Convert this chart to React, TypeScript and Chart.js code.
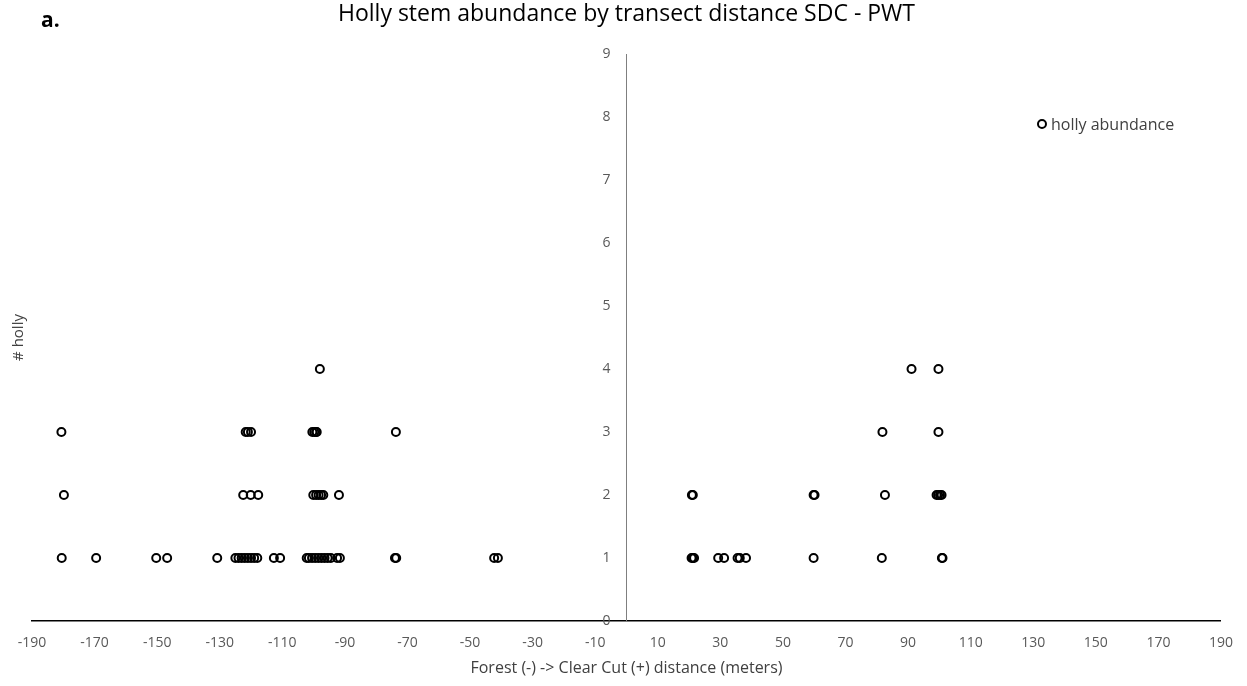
import React, { useEffect, useRef } from "react";
import { Chart, registerables } from "chart.js";

Chart.register(...registerables);

const chartTitle = "Holly stem abundance by transect distance SDC - PWT";
const panelLabel = "a.";
const xAxisTitle = "Forest (-) -> Clear Cut (+) distance (meters)";
const yAxisTitle = "# holly";
const seriesLabel = "holly abundance";

const xTickValues = [-190, -170, -150, -130, -110, -90, -70, -50, -30, -10, 10, 30, 50, 70, 90, 110, 130, 150, 170, 190];
const yTickValues = [0, 1, 2, 3, 4, 5, 6, 7, 8, 9];

// distances (m) of plots holding 1, 2, 3, 4 holly stems
const distancesWith1 = [
  -180.5, -169.5, -150.3, -146.8, -130.8, -125, -124, -123, -122, -121, -120, -119, -118,
  -112.7, -110.7, -102.2, -101.5, -100.5, -99.5, -98.5, -97.5, -96.5, -95.5, -94.5, -92.5,
  -91.6, -74, -73.6, -42.3, -41.1, 20.8, 21.2, 21.6, 29.3, 31.2, 35.5, 36.2, 38.2, 59.8,
  81.6, 100.8, 101.0,
];
const distancesWith2 = [
  -179.8, -122.5, -120.1, -117.7, -100.1, -99.2, -98.4, -97.6, -96.9, -91.9, 20.9, 21.2,
  59.8, 60.1, 82.6, 99.1, 99.6, 100.2, 100.7,
];
const distancesWith3 = [-180.6, -121.7, -121, -120, -100.4, -99.8, -99.2, -99.0, -73.7, 81.8, 99.7];
const distancesWith4 = [-98, 91.1, 99.7];

const countRows: [number, number[]][] = [
  [1, distancesWith1],
  [2, distancesWith2],
  [3, distancesWith3],
  [4, distancesWith4],
];

const FONT = "'Open Sans', 'Noto Sans', sans-serif";
const TEXT_GRAY = "#595959";

const extrasPlugin = {
  id: "extras",
  afterDraw(chart: any) {
    const { ctx, chartArea, scales } = chart;
    ctx.save();
    // panel label
    ctx.fillStyle = "#000";
    ctx.font = `bold 21px ${FONT}`;
    ctx.textAlign = "left";
    ctx.textBaseline = "alphabetic";
    ctx.fillText(panelLabel, 41, 27);
    // y tick labels to the left of the centred axis
    const axisX = scales.x.getPixelForValue(0);
    ctx.font = `14px ${FONT}`;
    ctx.fillStyle = TEXT_GRAY;
    ctx.textAlign = "right";
    ctx.textBaseline = "middle";
    for (const v of yTickValues) {
      ctx.fillText(String(v), axisX - 16, scales.y.getPixelForValue(v));
    }
    // y axis title on the far left
    ctx.save();
    ctx.translate(19, (chartArea.top + chartArea.bottom) / 2);
    ctx.rotate(-Math.PI / 2);
    ctx.font = `15px ${FONT}`;
    ctx.fillStyle = "#404040";
    ctx.textAlign = "center";
    ctx.textBaseline = "middle";
    ctx.fillText(yAxisTitle, 0, 0);
    ctx.restore();
    // legend inside the plot
    const lx = chartArea.right - 179;
    const ly = chartArea.top + 70;
    ctx.beginPath();
    ctx.arc(lx, ly, 4, 0, Math.PI * 2);
    ctx.lineWidth = 2;
    ctx.strokeStyle = "#000";
    ctx.stroke();
    ctx.font = `16px ${FONT}`;
    ctx.fillStyle = "#404040";
    ctx.textAlign = "left";
    ctx.textBaseline = "middle";
    ctx.fillText(chart.data.datasets[0].label, lx + 9, ly + 1);
    ctx.restore();
  },
};

export default function App() {
  const canvasRef = useRef<HTMLCanvasElement | null>(null);

  useEffect(() => {
    const canvas = canvasRef.current;
    if (!canvas) return;
    const points = countRows.flatMap(([count, xs]) => xs.map((x) => ({ x, y: count })));
    const chart = new Chart(canvas, {
      type: "scatter",
      data: {
        datasets: [
          {
            label: seriesLabel,
            data: points,
            pointStyle: "circle",
            pointRadius: 4,
            pointHoverRadius: 4,
            pointBorderWidth: 2,
            borderColor: "#000",
            backgroundColor: "rgba(0,0,0,0)",
          },
        ],
      },
      options: {
        animation: false,
        responsive: false,
        maintainAspectRatio: false,
        layout: { padding: { left: 32, right: 26, top: 0, bottom: 8.4 } },
        plugins: {
          legend: { display: false },
          tooltip: { enabled: false },
          title: {
            display: true,
            text: chartTitle,
            color: "#000",
            font: { family: FONT, size: 23, weight: "normal" },
            padding: { top: 1, bottom: 25.4 },
          },
        },
        scales: {
          x: {
            type: "linear",
            min: -190,
            max: 190,
            afterBuildTicks: (scale: any) => {
              scale.ticks = xTickValues.map((v) => ({ value: v }));
            },
            grid: { display: true, drawOnChartArea: false, drawTicks: false },
            border: { display: true, color: "#000", width: 1.5 },
            ticks: {
              color: TEXT_GRAY,
              font: { family: FONT, size: 14 },
              padding: 14,
              maxRotation: 0,
              autoSkip: false,
            },
            title: {
              display: true,
              text: xAxisTitle,
              color: "#404040",
              font: { family: FONT, size: 16 },
              padding: { top: -7.4, bottom: 0 },
            },
          },
          y: {
            type: "linear",
            min: 0,
            max: 9,
            position: { x: 0 },
            afterBuildTicks: (scale: any) => {
              scale.ticks = yTickValues.map((v) => ({ value: v }));
            },
            grid: { display: true, drawOnChartArea: false, drawTicks: false },
            border: { display: true, color: "#7f7f7f", width: 1 },
            ticks: { display: false },
          },
        },
      },
      plugins: [extrasPlugin],
    });
    return () => chart.destroy();
  }, []);

  return (
    <div style={{ position: "fixed", left: 0, top: 0, width: 1247, height: 686, background: "#fff" }}>
      <canvas ref={canvasRef} width={1247} height={686} style={{ display: "block" }} />
    </div>
  );
}
